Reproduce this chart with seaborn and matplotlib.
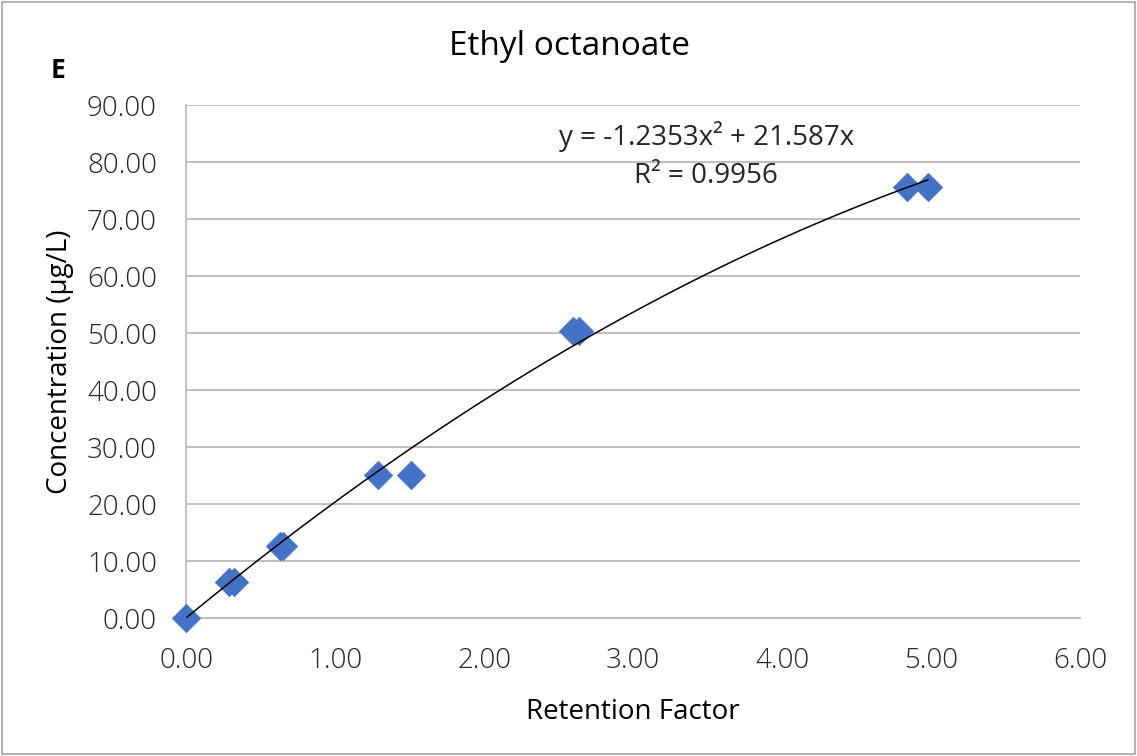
import numpy as np
import pandas as pd
import matplotlib
matplotlib.use("Agg")
import matplotlib.pyplot as plt
import seaborn as sns
from matplotlib.patches import Rectangle

# ---- data ----
retention_factor = [0.00, 0.29, 0.32, 0.63, 0.65, 1.29, 1.51, 2.60, 2.64, 4.84, 4.98]
concentration = [0.00, 6.35, 6.35, 12.55, 12.55, 25.10, 25.10, 50.30, 50.30, 75.70, 75.70]
coef_a = -1.2353   # x^2 coefficient of trendline
coef_b = 21.587    # x coefficient of trendline
r_squared = 0.9956
x_ticks = [0, 1, 2, 3, 4, 5, 6]
y_ticks = [0, 10, 20, 30, 40, 50, 60, 70, 80, 90]

sns.set_theme(style="white")
plt.rcParams['font.family'] = ['Open Sans', 'DejaVu Sans']

fig = plt.figure(figsize=(11.37, 7.56), dpi=100)
ax = fig.add_axes([0.1636, 0.1825, 0.7863, 0.6786])

grid_c = "#bfbfbf"
df = pd.DataFrame({"x": retention_factor, "y": concentration})

# trendline
xs = np.linspace(0, max(retention_factor), 200)
trend = pd.DataFrame({"x": xs, "y": coef_a * xs ** 2 + coef_b * xs})
sns.lineplot(data=trend, x="x", y="y", ax=ax, color="black", linewidth=1.1, zorder=4)

sns.scatterplot(data=df, x="x", y="y", ax=ax, marker="D", s=210,
                color="#4472C4", edgecolor="#4472C4", linewidth=0.5, zorder=3,
                clip_on=False)

ax.set_xlim(0, 6)
ax.set_ylim(0, 90)
ax.set_xticks(x_ticks)
ax.set_yticks(y_ticks)
ax.set_xticklabels([f"{v:.2f}" for v in x_ticks])
ax.set_yticklabels([f"{v:.2f}" for v in y_ticks])
ax.yaxis.grid(True, color=grid_c, linewidth=1.4, zorder=0)
ax.xaxis.grid(False)
ax.set_axisbelow(True)

for s in ["top", "right"]:
    ax.spines[s].set_visible(False)
for s in ["left", "bottom"]:
    ax.spines[s].set_color(grid_c)
    ax.spines[s].set_linewidth(1.4)

ax.tick_params(axis="both", which="major", labelsize=20, colors="#404040",
               length=7, width=1.4, color=grid_c, direction="out")
ax.tick_params(axis="x", pad=14)
ax.tick_params(axis="y", pad=14)
for lab in ax.get_xticklabels() + ax.get_yticklabels():
    lab.set_color("#262626")
    lab.set_fontweight("light")

ax.set_xlabel("Retention Factor", fontsize=20, color="black")
ax.set_ylabel("Concentration (µg/L)", fontsize=20, color="black")
ax.xaxis.set_label_coords(0.5, -0.155)
ax.yaxis.set_label_coords(-0.125, 0.5)

fig.text(0.5013, 0.938, "Ethyl octanoate", ha="center", va="center", fontsize=24, color="black")
fig.text(0.051, 0.907, "E", ha="center", va="center", fontsize=19, fontweight="bold", color="black")

ax.text(0.582, 0.938, f"y = {coef_a}x² + {coef_b}x", transform=ax.transAxes,
        ha="center", va="center", fontsize=20, color="#262626")
ax.text(0.582, 0.862, f"R² = {r_squared}", transform=ax.transAxes,
        ha="center", va="center", fontsize=20, color="#262626")

fig.patches.append(Rectangle((0.0015, 0.002), 0.997, 0.996, transform=fig.transFigure,
                             fill=False, edgecolor="#a6a6a6", linewidth=1.2))

fig.savefig("out.png", dpi=100)
